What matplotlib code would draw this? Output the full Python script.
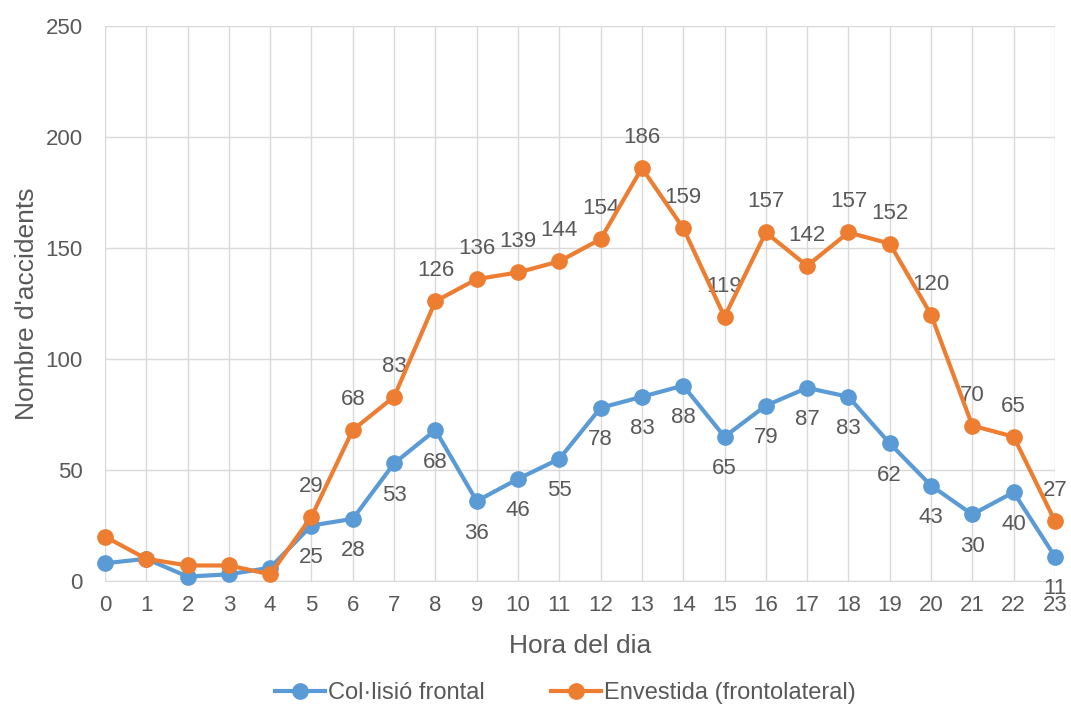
import matplotlib
matplotlib.use("Agg")
import matplotlib.pyplot as plt

hours = list(range(24))
frontal = [8, 10, 2, 3, 6, 25, 28, 53, 68, 36, 46, 55, 78, 83, 88, 65, 79, 87, 83, 62, 43, 30, 40, 11]
envestida = [20, 10, 7, 7, 3, 29, 68, 83, 126, 136, 139, 144, 154, 186, 159, 119, 157, 142, 157, 152, 120, 70, 65, 27]
label_from = 5

plt.rcParams['font.family'] = ['Liberation Sans', 'DejaVu Sans']
txt = '#595959'
blue = '#5B9BD5'
orange = '#ED7D31'

fig = plt.figure(figsize=(10.71, 7.04), dpi=100)
ax = fig.add_axes([0.098, 0.1747, 0.887, 0.7883])

ax.plot(hours, frontal, color=blue, lw=3, marker='o', ms=11, label='Col·lisió frontal', zorder=3, clip_on=False)
ax.plot(hours, envestida, color=orange, lw=3, marker='o', ms=11, label='Envestida (frontolateral)', zorder=4, clip_on=False)

for h, v in zip(hours, frontal):
    if h >= label_from:
        ax.annotate(str(v), (h, v), xytext=(0, -23), textcoords='offset points',
                    ha='center', va='center', fontsize=16, color=txt)
for h, v in zip(hours, envestida):
    if h >= label_from:
        ax.annotate(str(v), (h, v), xytext=(0, 22), textcoords='offset points',
                    ha='center', va='center', fontsize=16, color=txt)

ax.set_xlim(0, 23)
ax.set_ylim(0, 250)
ax.set_xticks(hours)
ax.set_xticklabels([str(h) for h in hours])
ax.set_yticks(range(0, 251, 50))
ax.grid(True, color='#D9D9D9', lw=1)
ax.set_axisbelow(True)
for s in ['top', 'right', 'left']:
    ax.spines[s].set_visible(False)
ax.spines['bottom'].set_color('#D9D9D9')
ax.tick_params(axis='both', length=0, labelsize=16, colors=txt)
ax.tick_params(axis='x', pad=10)
ax.tick_params(axis='y', pad=16)
ax.set_xlabel('Hora del dia', fontsize=19, color=txt, labelpad=13)
ax.set_ylabel("Nombre d'accidents", fontsize=19, color=txt, labelpad=5)

fig.legend(loc='lower center', bbox_to_anchor=(0.528, -0.03), ncol=2, frameon=False,
           fontsize=17, labelcolor=txt, handlelength=2.1, handletextpad=0.15, columnspacing=2.8)

fig.savefig('out.png', dpi=100)
